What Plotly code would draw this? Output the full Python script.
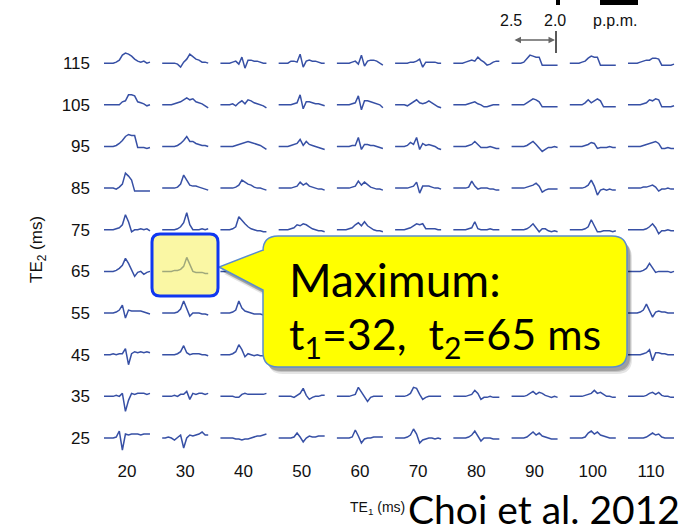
import plotly.graph_objects as go

# ---------------- data ----------------
te1_values = [20, 30, 40, 50, 60, 70, 80, 90, 100, 110]
te2_values = [115, 105, 95, 85, 75, 65, 55, 45, 35, 25]
x_tick_labels = [str(v) for v in te1_values]
y_tick_labels = [str(v) for v in te2_values]

# spectral traces (16 samples each, relative amplitude), one list per TE2 row, columns TE1 = 20..110
row_115 = [
    [0,0,0,0,1,3,8,10,9,7,4,2,1,2,0,1],
    [0,0,0,0,0,-1,-4,1,4,9,6,4,3,1,1,0],
    [0,0,0,0,1,2,-1,6,-5,3,3,2,2,1,0,0],
    [0,0,0,0,2,2,1,9,-4,2,3,2,2,1,0,0],
    [0,0,0,0,0,1,2,-1,8,-3,2,3,3,2,0,-2],
    [0,0,0,0,0,1,1,2,4,-4,1,1,1,1,0,0],
    [0,0,0,0,1,2,3,2,6,3,1,-2,-1,1,2,2],
    [0,0,0,0,1,5,8,7,6,6,-2,-2,-2,-2,-2,-2],
    [0,0,0,0,1,2,5,7,6,6,-2,-2,-2,-2,-2,-2],
    [0,0,0,0,1,2,3,3,5,5,4,-2,-2,-2,-2,-1],
]
row_105 = [
    [0,0,0,0,0,0,3,4,10,10,9,3,2,1,-1,0],
    [0,0,0,0,1,2,3,5,7,5,6,3,2,1,-1,-3],
    [0,0,0,0,1,-1,2,4,1,5,4,2,1,0,-1,-3],
    [0,0,0,0,0,1,2,10,-4,3,3,2,1,1,0,-1],
    [0,0,0,0,0,1,2,9,-5,4,4,3,2,1,0,-3],
    [0,0,0,0,-1,1,3,5,2,1,2,4,2,0,-2,-3],
    [0,0,0,0,0,1,2,3,1,0,-2,-2,-1,0,0,0],
    [0,0,0,0,0,2,4,6,5,3,-2,-2,-2,-2,-2,-2],
    [0,0,0,0,0,2,5,2,4,6,4,-2,-2,-2,-2,-2],
    [0,0,0,0,0,1,2,5,4,6,5,-2,-2,-2,-2,-1],
]
row_95 = [
    [0,0,0,0,1,3,6,10,12,11,11,-1,-1,-1,-2,-1],
    [0,0,0,0,0,1,3,6,10,5,5,3,2,1,1,0],
    [0,0,0,0,0,1,2,3,4,5,4,3,2,1,-1,-3],
    [0,0,0,0,1,2,3,7,1,5,2,1,0,-1,-2,-3],
    [0,0,0,0,0,1,1,9,-3,2,2,1,1,0,-1,-2],
    [0,0,0,0,1,4,2,9,-3,3,1,2,1,0,-2,-3],
    [0,0,0,0,0,1,2,5,2,-1,-1,-1,0,-1,-2,-2],
    [0,0,0,0,0,1,3,5,2,-1,-5,-3,-1,-1,0,-1],
    [0,0,0,0,0,1,2,4,3,-2,-1,-1,-1,0,-1,-1],
    [0,0,0,0,0,1,2,3,4,5,3,-2,-2,-1,-2,-2],
]
row_85 = [
    [0,0,0,0,-1,1,4,15,12,8,-3,-3,-3,-3,-3,-3],
    [0,0,0,0,0,1,4,13,8,3,2,2,1,0,-1,-2],
    [0,0,0,0,0,1,3,8,6,4,3,1,0,0,-1,-2],
    [0,0,0,0,0,1,2,6,3,5,2,1,0,-1,-1,-2],
    [0,0,0,0,0,1,2,7,3,6,3,1,0,-1,-1,-2],
    [0,0,0,0,0,1,2,6,-5,2,2,2,1,0,0,-1],
    [0,0,0,0,0,1,7,2,-1,0,0,0,-1,-1,-2,-2],
    [0,0,0,0,0,1,2,3,5,2,-4,-2,-1,-1,-1,-1],
    [0,0,0,0,0,1,3,8,2,-7,-2,-1,-2,-1,-2,-2],
    [0,0,0,0,0,1,1,2,3,1,-3,-1,-1,0,-1,-1],
]
row_75 = [
    [0,0,0,0,1,2,5,15,8,-2,0,0,1,0,1,-1],
    [0,0,0,0,0,1,3,7,17,5,0,0,0,1,0,1],
    [0,0,0,0,1,3,13,9,6,3,1,0,-1,-1,-2,-2],
    [0,0,0,0,1,2,5,4,6,5,3,1,0,-1,-1,-2],
    [0,0,0,0,1,2,5,7,4,8,4,2,0,-1,-1,-2],
    [0,0,0,0,1,2,4,6,5,6,1,1,1,1,0,0],
    [0,0,0,0,0,1,2,8,1,0,0,0,1,0,0,0],
    [0,0,0,0,0,1,3,6,2,-2,1,1,-1,-2,-1,-2],
    [0,0,0,0,0,1,3,10,4,-2,-2,-1,-1,-1,-2,-1],
    [0,0,0,0,0,0,1,3,6,2,-4,-1,-1,0,-1,-1],
]
row_65 = [
    [0,0,0,0,1,3,6,13,8,2,-5,-1,0,-3,-1,0],
    [0,0,0,0,1,1,2,5,14,6,0,-1,-1,-1,-2,-2],
    [0,0,0,0,1,2,5,10,4,2,1,0,-1,-1,-1,-2],
    [0,0,0,0,1,2,4,8,5,3,1,0,-1,-1,-1,-1],
    [0,0,0,0,1,2,3,7,5,4,1,0,-1,-1,-1,-1],
    [0,0,0,0,0,1,3,6,4,3,1,0,0,-1,-1,-1],
    [0,0,0,0,0,1,3,6,2,0,0,0,0,-1,-1,-1],
    [0,0,0,0,0,1,3,6,2,-1,0,0,0,-1,-1,-1],
    [0,0,0,0,0,1,3,7,2,-1,0,0,0,0,-1,0],
    [0,0,0,0,0,1,3,8,3,-1,0,0,0,0,-1,0],
]
row_55 = [
    [0,0,0,0,1,3,8,-5,3,2,2,2,2,1,0,-1],
    [0,0,0,0,0,1,4,12,5,-3,0,0,0,-1,-1,-2],
    [0,0,0,0,1,3,12,5,2,1,0,-1,-1,-1,-2,-2],
    [0,0,0,0,1,2,8,4,1,0,0,-1,-1,-1,-1,-1],
    [0,0,0,0,1,2,7,3,-1,0,0,0,0,-1,-1,-1],
    [0,0,0,0,1,2,7,2,-2,0,1,0,0,0,-1,0],
    [0,0,0,0,1,2,6,2,-2,1,1,0,0,0,-1,0],
    [0,0,0,0,1,2,6,2,-3,1,1,1,0,0,0,0],
    [0,0,0,0,1,3,8,2,-3,1,2,1,0,0,0,0],
    [0,0,0,0,1,3,9,2,-4,1,2,1,1,0,0,0],
]
row_45 = [
    [0,0,0,1,0,1,1,6,-10,1,3,2,3,2,3,2],
    [0,0,0,0,0,1,3,9,2,0,1,1,1,0,0,-1],
    [0,0,0,0,1,3,10,5,-2,1,0,-1,0,-1,-1,-1],
    [0,0,0,0,1,2,8,3,-3,0,0,0,0,0,0,0],
    [0,0,0,0,1,2,7,2,-4,0,1,0,0,0,0,0],
    [0,0,0,0,1,2,7,2,-5,0,1,1,0,0,0,0],
    [0,0,0,0,0,1,6,2,-5,1,1,1,0,0,0,0],
    [0,0,0,0,0,1,5,2,-5,1,2,1,0,0,0,0],
    [0,0,0,0,0,1,5,2,-6,1,2,1,1,0,0,0],
    [0,0,0,0,0,1,2,5,-6,2,2,1,1,0,0,0],
]
row_35 = [
    [0,0,0,0,1,0,3,-15,-4,3,2,3,3,3,2,3],
    [0,0,0,0,1,0,2,2,5,-3,3,2,3,3,2,3],
    [0,0,0,0,0,-1,-1,2,3,2,2,2,2,2,2,3],
    [0,0,0,0,0,-1,1,3,8,1,-3,-1,0,0,1,1],
    [0,0,0,0,0,1,2,9,4,-1,-5,-1,0,0,0,0],
    [0,0,0,0,1,3,9,8,2,-3,-1,0,0,0,0,0],
    [0,0,0,0,0,1,2,6,3,-3,-1,-1,0,-1,-1,-1],
    [0,0,0,0,0,1,3,5,2,4,3,1,0,-1,0,-1],
    [0,0,0,0,0,1,2,3,6,3,4,2,0,0,-1,-1],
    [0,0,0,0,0,0,1,3,4,2,4,1,0,0,-1,-1],
]
row_25 = [
    [0,0,0,0,1,7,-12,4,3,4,4,4,3,4,4,4],
    [0,0,1,0,-2,1,3,-10,0,3,2,3,4,6,3,3],
    [0,0,0,0,0,-1,-1,-2,-1,-1,0,1,2,2,3,4],
    [0,0,0,0,0,1,5,1,-4,0,2,1,1,2,2,2],
    [0,0,0,0,0,1,8,2,-5,-1,0,0,1,1,1,1],
    [0,0,0,0,1,3,9,4,-5,-2,-1,0,0,-1,0,-1],
    [0,0,0,0,0,1,3,7,2,-3,0,0,0,-1,-1,-1],
    [0,0,0,0,0,1,4,6,3,5,2,1,0,-1,-1,-1],
    [0,0,0,0,0,1,5,7,4,6,3,2,1,0,0,0],
    [0,0,0,0,0,0,1,3,5,3,4,1,0,0,0,0],
]
spectra_rows = [row_115, row_105, row_95, row_85, row_75,
                row_65, row_55, row_45, row_35, row_25]

# ---------------- layout geometry ----------------
W, H = 681, 527
PL, PR, PT, PB = 96, 676, 34, 458
X_RANGE = [14.68, 114.29]
Y_RANGE = [20.2, 122.0]
ppx = (PR - PL) / (X_RANGE[1] - X_RANGE[0])   # pixels per TE1 unit
ppy = (PB - PT) / (Y_RANGE[1] - Y_RANGE[0])   # pixels per TE2 unit
SPEC_WIDTH_PX = 46.0

def xp(px):
    return (px - PL) / (PR - PL)

def yp(py):
    return (PB - py) / (PB - PT)

LINE_BLUE = "rgb(55,80,165)"

fig = go.Figure()

xs, ys = [], []
for te2, row in zip(te2_values, spectra_rows):
    for te1, spec in zip(te1_values, row):
        n = len(spec)
        half = SPEC_WIDTH_PX / 2 / ppx
        for k, v in enumerate(spec):
            xs.append(te1 - half + 2 * half * k / (n - 1))
            ys.append(te2 + v / ppy)
        xs.append(None)
        ys.append(None)

fig.add_trace(go.Scatter(x=xs, y=ys, mode="lines",
                         line=dict(color=LINE_BLUE, width=1.5),
                         hoverinfo="skip", showlegend=False))

def rounded_path(x0, y0, x1, y1, r, tail=None):
    def P(a, b):
        return f"{xp(a):.5f},{yp(b):.5f}"
    s = f"M {P(x0 + r, y0)} L {P(x1 - r, y0)} Q {P(x1, y0)} {P(x1, y0 + r)} "
    s += f"L {P(x1, y1 - r)} Q {P(x1, y1)} {P(x1 - r, y1)} "
    s += f"L {P(x0 + r, y1)} Q {P(x0, y1)} {P(x0, y1 - r)} "
    if tail:
        (ty_low, tx, ty, ty_up) = tail
        s += f"L {P(x0, ty_low)} L {P(tx, ty)} L {P(x0, ty_up)} "
    s += f"L {P(x0, y0 + r)} Q {P(x0, y0)} {P(x0 + r, y0)} Z"
    return s

shapes = []
for off, a in [((5, 7), 0.10), ((4, 5), 0.15), ((3, 4), 0.18)]:
    shapes.append(dict(type="path", xref="paper", yref="paper", layer="above",
                       path=rounded_path(263 + off[0], 236 + off[1], 627 + off[0], 367 + off[1], 15,
                                         tail=(290 + off[1], 219 + off[0], 267 + off[1], 250 + off[1])),
                       fillcolor=f"rgba(0,0,0,{a})", line=dict(width=0)))
shapes.append(dict(type="path", xref="paper", yref="paper", layer="above",
                   path=rounded_path(263, 236, 627, 367, 15, tail=(290, 219, 267, 250)),
                   fillcolor="#ffff00", line=dict(color="rgb(90,140,205)", width=1.5)))
shapes.append(dict(type="path", xref="paper", yref="paper", layer="above",
                   path=rounded_path(152, 234, 218, 296, 8),
                   fillcolor="rgba(245,240,90,0.55)", line=dict(color="#1038f0", width=3)))
shapes.append(dict(type="line", xref="paper", yref="paper", layer="above",
                   x0=xp(556), x1=xp(556), y0=yp(31), y1=yp(53),
                   line=dict(color="#222222", width=1.5)))
# cut-off title remnants at top edge
shapes.append(dict(type="rect", xref="paper", yref="paper", layer="above",
                   x0=xp(556), x1=xp(560), y0=yp(5), y1=yp(-2),
                   fillcolor="black", line=dict(width=0)))
shapes.append(dict(type="rect", xref="paper", yref="paper", layer="above",
                   x0=xp(600), x1=xp(638), y0=yp(5), y1=yp(-2),
                   fillcolor="black", line=dict(width=0)))

annotations = []
SANS = "Liberation Sans, Arial, sans-serif"
TICKFONT = dict(family=SANS, size=17, color="#111111")
CAL = "Lato, 'Open Sans', sans-serif"

annotations.append(dict(xref="paper", yref="paper", x=xp(287), y=yp(279),
                        xanchor="left", yanchor="middle", showarrow=False,
                        text="Maximum:", font=dict(family=CAL, size=46, color="black")))
annotations.append(dict(xref="paper", yref="paper", x=xp(287), y=yp(336),
                        xanchor="left", yanchor="middle", showarrow=False,
                        text="t<sub>1</sub>=32,&nbsp; t<sub>2</sub>=65 ms",
                        font=dict(family=CAL, size=43, color="black")))
annotations.append(dict(xref="paper", yref="paper", x=xp(682), y=yp(509),
                        xanchor="right", yanchor="middle", showarrow=False,
                        text="Choi et al. 2012", font=dict(family=CAL, size=39, color="black")))
annotations.append(dict(xref="paper", yref="paper", x=xp(407), y=yp(508),
                        xanchor="right", yanchor="middle", showarrow=False,
                        text="TE<sub>1</sub> (ms)",
                        font=dict(family=SANS, size=14, color="#111111")))
annotations.append(dict(xref="paper", yref="paper", x=xp(38), y=yp(250),
                        xanchor="center", yanchor="middle", showarrow=False, textangle=-90,
                        text="TE<sub>2</sub> (ms)",
                        font=dict(family=SANS, size=17, color="#111111")))
for label, cx in [("2.5", 511), ("2.0", 555), ("p.p.m.", 615)]:
    annotations.append(dict(xref="paper", yref="paper", x=xp(cx), y=yp(21),
                            xanchor="center", yanchor="middle", showarrow=False,
                            text=label, font=dict(family=SANS, size=16, color="#111111")))
annotations.append(dict(xref="paper", yref="paper", x=xp(555), y=yp(40),
                        ax=-42, ay=0, text="", showarrow=True, arrowhead=2,
                        arrowside="end+start", arrowsize=1, arrowwidth=1.3,
                        arrowcolor="#666666", standoff=0, startstandoff=0))

fig.update_layout(
    width=W, height=H,
    margin=dict(l=PL, r=W - PR, t=PT, b=H - PB, pad=0),
    paper_bgcolor="white", plot_bgcolor="white",
    xaxis=dict(range=X_RANGE, tickmode="array", tickvals=te1_values, ticktext=x_tick_labels,
               showgrid=False, zeroline=False, showline=False, ticks="",
               tickfont=TICKFONT, ticklabelstandoff=1),
    yaxis=dict(range=Y_RANGE, tickmode="array", tickvals=te2_values, ticktext=y_tick_labels,
               showgrid=False, zeroline=False, showline=False, ticks="",
               tickfont=TICKFONT, ticklabelstandoff=5),
    shapes=shapes,
    annotations=annotations,
    showlegend=False,
)

fig.write_html("out.html")
